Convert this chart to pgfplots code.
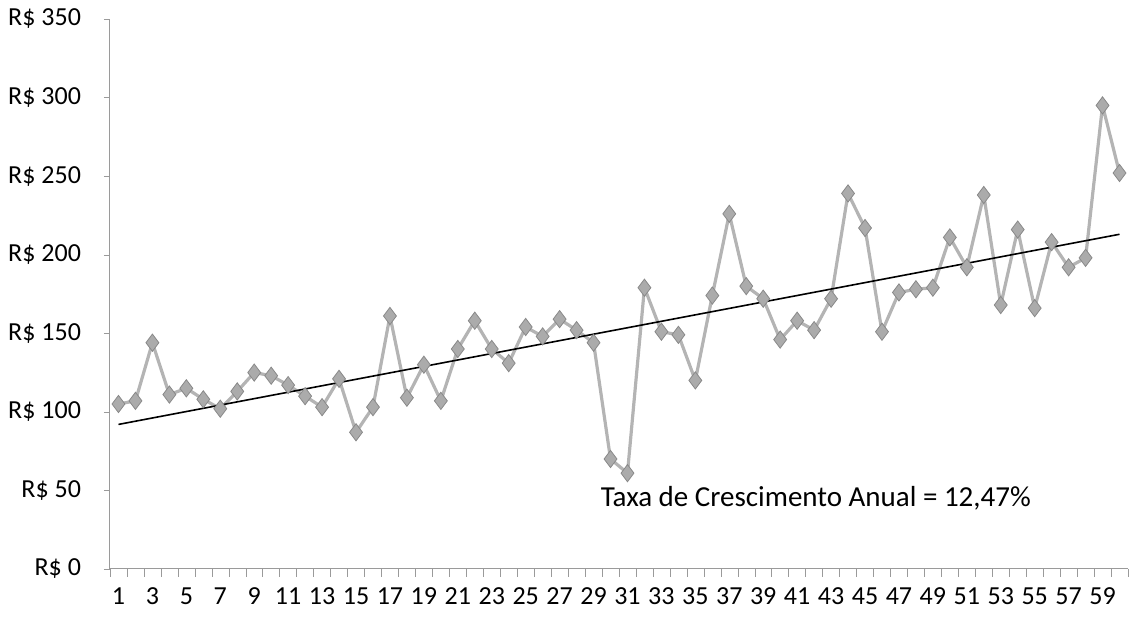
\documentclass[border=0pt]{standalone}
\usepackage{fontspec}
\setmainfont{Carlito}
\usepackage{pgfplots}
\pgfplotsset{compat=1.18}
\definecolor{lin}{HTML}{B4B4B4}
\definecolor{mk}{HTML}{ABABAB}
\definecolor{ax}{HTML}{9A9A9A}
\begin{document}
\begin{tikzpicture}
\path[use as bounding box] (0,0) rectangle (565.5pt,310.5pt);
\begin{axis}[
  at={(55pt,26pt)}, anchor=south west,
  scale only axis, width=509pt, height=275pt,
  xmin=0.5, xmax=60.5, ymin=0, ymax=350,
  axis x line=bottom, axis y line=left,
  axis line style={-, ax, line width=0.5pt},
  xtick={1,3,...,59},
  minor xtick={0.5,1.5,...,60.5},
  major x tick style={draw=none},
  minor x tick style={ax},
  minor tick length=4pt,
  ytick={0,50,...,350},
  yticklabels={R\$ 0,R\$ 50,R\$ 100,R\$ 150,R\$ 200,R\$ 250,R\$ 300,R\$ 350},
  y tick style={ax},
  major tick length=3pt,
  tick align=outside,
  /pgf/number format/assume math mode=true,
  ticklabel style={font=\fontsize{13}{15}\selectfont},
  yticklabel style={xshift=-8pt},
  xticklabel style={yshift=-3pt},
  clip=false,
]
\addplot[color=lin, line width=1.6pt, mark=diamond*, mark size=4.3pt,
  mark options={fill=mk, draw=mk!80!black, line width=0.4pt}] coordinates {
(1,105) (2,107) (3,144) (4,111) (5,115) (6,108) (7,102) (8,113) (9,125) (10,123)
(11,117) (12,110) (13,103) (14,121) (15,87) (16,103) (17,161) (18,109) (19,130) (20,107)
(21,140) (22,158) (23,140) (24,131) (25,154) (26,148) (27,159) (28,152) (29,144) (30,70)
(31,61) (32,179) (33,151) (34,149) (35,120) (36,174) (37,226) (38,180) (39,172) (40,146)
(41,158) (42,152) (43,172) (44,239) (45,217) (46,151) (47,176) (48,178) (49,179) (50,211)
(51,192) (52,238) (53,168) (54,216) (55,166) (56,208) (57,192) (58,198) (59,295) (60,252)
};
\addplot[black, line width=0.8pt, mark=none] coordinates {(1,92) (60,213)};
\node[font=\fontsize{14.5}{16}\selectfont, anchor=center] at (axis cs:42.1,45) {Taxa de Crescimento Anual = 12,47\%};
\end{axis}
\end{tikzpicture}
\end{document}
